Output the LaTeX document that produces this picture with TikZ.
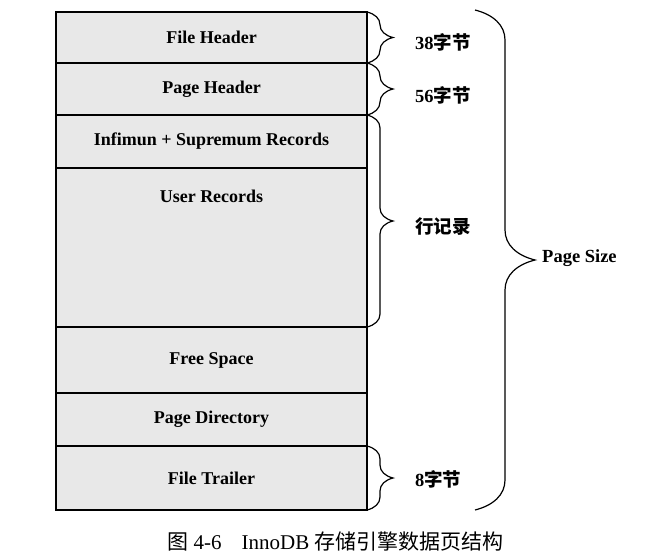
\documentclass[tikz,border=0pt]{standalone}
\usepackage{fontspec}
\setmainfont{Liberation Serif}
\newfontfamily\cjk{Noto Sans CJK SC}
\usetikzlibrary{positioning,calc,decorations.pathreplacing}

\begin{document}
\begin{tikzpicture}[x=1pt,y=-1pt]
   \tikzset{rowbox/.style={draw, line width=2pt, fill=black!9, minimum width=311pt,
       inner sep=0pt, outer sep=0pt, font=\fontsize{18}{21}\selectfont\bfseries}}
   \tikzset{rowtext/.style={inner sep=0pt, font=\fontsize{18}{21}\selectfont\bfseries}}
   \tikzset{curly/.style={decorate, line width=1.2pt,
       decoration={brace, amplitude=#1, transform={yscale=2}}}}
   \tikzset{bytes/.style={anchor=west, inner sep=0pt, font=\fontsize{18.5}{22}\selectfont\bfseries}}
   \useasboundingbox (0,0) rectangle (647,557);
   % page layout
   \node[rowbox, minimum height=51pt] (fh) at (211.5,37.5) {File Header};
   \node[rowbox, minimum height=52pt, below=0pt of fh] (ph) {Page Header};
   \node[rowbox, minimum height=53pt, below=0pt of ph] (inf) {Infimun + Supremum Records};
   \node[rowbox, minimum height=159pt, below=0pt of inf] (ur) {};
   \node[rowtext] (urtxt) at ([yshift=-28pt]ur.north) {User Records};
   \node[rowbox, minimum height=66pt, below=0pt of ur] (fs) {Free Space};
   \node[rowbox, minimum height=53pt, below=0pt of fs] (pd) {Page Directory};
   \node[rowbox, minimum height=64pt, below=0pt of pd] (ft) {File Trailer};
   % sizes
   \draw[curly=13pt] (fh.north east) -- (fh.south east);
   \draw[curly=13pt] (ph.north east) -- (ph.south east);
   \draw[curly=13pt] (inf.north east) -- (ur.south east);
   \draw[curly=13pt] (ft.north east) -- (ft.south east);
   \node[bytes] (fhsize) at ([xshift=48pt,yshift=-5pt]fh.east) {38{\cjk\bfseries 字节}};
   \node[bytes] (phsize) at ([xshift=48pt,yshift=-6pt]ph.east) {56{\cjk\bfseries 字节}};
   \node[bytes] (recsize) at ([xshift=48pt,yshift=-6pt]$(inf.north east)!0.5!(ur.south east)$) {\cjk\bfseries 行记录};
   \node[bytes] (ftsize) at ([xshift=48pt,yshift=-1pt]ft.east) {8{\cjk\bfseries 字节}};
   \coordinate (pstop) at ([xshift=108pt,yshift=2pt]fh.north east);
   \coordinate (psbot) at ([xshift=108pt]ft.south east);
   \draw[curly=30pt] (pstop) -- (psbot);
   \node[bytes] (pagesize) at ([xshift=67pt,yshift=2pt]$(pstop)!0.5!(psbot)$) {Page Size};
   \node[font=\fontsize{21}{24}\selectfont] (caption) at (335.5,542)
       {{\cjk 图}\ 4-6\hspace{20pt}InnoDB\ {\cjk 存储引擎数据页结构}};
\end{tikzpicture}
\end{document}
